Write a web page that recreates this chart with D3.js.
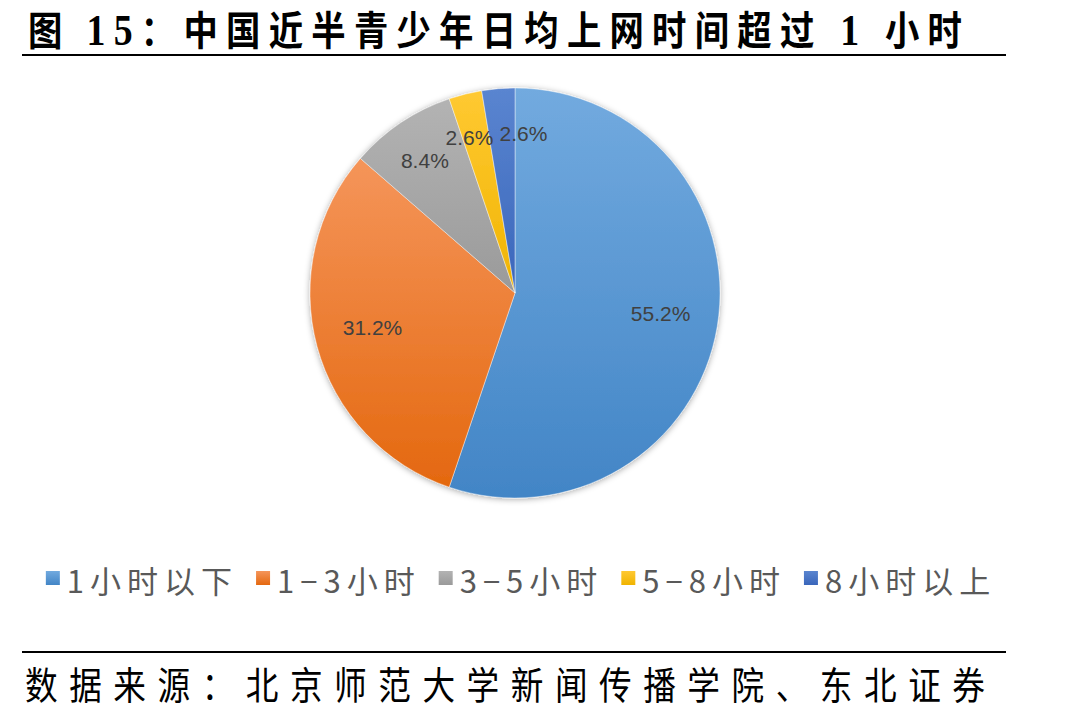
<!DOCTYPE html>
<html><head><meta charset="utf-8">
<script src="https://cdn.jsdelivr.net/npm/d3@7"></script>
<style>
html,body{margin:0;padding:0;background:#fff;}
svg{display:block;}
</style></head>
<body>
<svg id="chart" width="1090" height="719"></svg>
<script>
const categories = ["1小时以下", "1−3小时", "3−5小时", "5−8小时", "8小时以上"];
const values = [55.2, 31.2, 8.4, 2.6, 2.6];
const labels = ["55.2%", "31.2%", "8.4%", "2.6%", "2.6%"];
const colorsLight = ["#72aadf", "#f5955a", "#b3b3b3", "#ffc932", "#5a85d0"];
const colorsDark  = ["#4285c6", "#e4680f", "#9a9a9a", "#f0b400", "#3a66bb"];
const titleText = "中国近半青少年日均上网时间超过";
const sourceText = "数据来源：北京师范大学新闻传播学院、东北证券";

const W = 1090, H = 719;
const svg = d3.select("#chart");
const defs = svg.append("defs");

// Title
const sx = 0.86;
const t = svg.append("g").attr("transform", `translate(28,45) scale(${sx},1)`)
  .append("text").attr("x", 0).attr("y", 0)
  .attr("font-size", 40).attr("font-weight", 700).attr("fill", "#000")
  .attr("textLength", 934 / sx).attr("lengthAdjust", "spacing");
t.append("tspan").attr("font-family", "'Noto Sans CJK SC'").text("图 ");
t.append("tspan").attr("font-family", "'Liberation Serif'").attr("font-size", 44).text("15");
t.append("tspan").attr("font-family", "'Noto Sans CJK SC'").text("：" + titleText);
t.append("tspan").attr("font-family", "'Liberation Serif'").attr("font-size", 44).text(" 1 ");
t.append("tspan").attr("font-family", "'Noto Sans CJK SC'").text("小时");

svg.append("line").attr("x1", 22).attr("x2", 1006).attr("y1", 55).attr("y2", 55)
  .attr("stroke", "#000").attr("stroke-width", 2);
svg.append("line").attr("x1", 22).attr("x2", 1006).attr("y1", 652).attr("y2", 652)
  .attr("stroke", "#000").attr("stroke-width", 2);

svg.append("g").attr("transform", `translate(25,699) scale(${sx},1)`)
  .append("text").attr("x", 0).attr("y", 0)
  .attr("font-family", "'Noto Sans CJK SC'").attr("font-size", 38).attr("fill", "#000")
  .attr("textLength", 960 / sx).attr("lengthAdjust", "spacing")
  .text(sourceText);

// Pie
const cx = 515, cy = 293, R = 205;
const filt = defs.append("filter").attr("id", "shadow")
  .attr("x", "-10%").attr("y", "-10%").attr("width", "120%").attr("height", "120%");
filt.append("feDropShadow").attr("dx", 0).attr("dy", 1).attr("stdDeviation", 3)
  .attr("flood-color", "#000").attr("flood-opacity", 0.35);

categories.forEach((c, i) => {
  const g = defs.append("linearGradient").attr("id", "grad" + i)
    .attr("x1", 0).attr("y1", 0).attr("x2", 0).attr("y2", 1);
  g.append("stop").attr("offset", "0%").attr("stop-color", colorsLight[i]);
  g.append("stop").attr("offset", "100%").attr("stop-color", colorsDark[i]);
});

const pie = d3.pie().sort(null).value(d => d)(values);
const arc = d3.arc().innerRadius(0).outerRadius(R);
const pg = svg.append("g").attr("transform", `translate(${cx},${cy})`);
pg.append("g").attr("filter", "url(#shadow)")
  .selectAll("path").data(pie).join("path")
  .attr("d", arc)
  .attr("fill", (d, i) => `url(#grad${i})`)
  .attr("stroke", "#fff").attr("stroke-width", 0.6).attr("stroke-opacity", 0.7);

// Labels
const lab = pie.map((d, i) => {
  const frac = (d.endAngle - d.startAngle) / (2 * Math.PI);
  const r = frac < 0.1 ? 0.78 * R : 0.72 * R;
  const a = (d.startAngle + d.endAngle) / 2;
  return { x: r * Math.sin(a), y: -r * Math.cos(a) - (frac < 0.1 ? 0 : 4), text: labels[i] };
});
const labelSel = pg.selectAll("text.lbl").data(lab).join("text").attr("class", "lbl")
  .attr("x", d => d.x).attr("y", d => d.y)
  .attr("text-anchor", "middle").attr("dominant-baseline", "central")
  .attr("font-family", "'Liberation Sans', Arial, sans-serif").attr("font-size", 21)
  .attr("fill", "#404040").text(d => d.text);
// simple horizontal de-overlap
const nodes = labelSel.nodes();
for (let k = 1; k < nodes.length; k++) {
  const a = nodes[k - 1].getBBox(), b = nodes[k].getBBox();
  const overlapX = Math.min(a.x + a.width, b.x + b.width) - Math.max(a.x, b.x);
  const overlapY = Math.min(a.y + a.height, b.y + b.height) - Math.max(a.y, b.y);
  if (overlapX > -6 && overlapY > 0) {
    const shift = overlapX + 6;
    const p = lab[k - 1], q = lab[k];
    if (q.x >= p.x) { p.x -= shift * 0.3; q.x += shift * 0.7; }
    else { p.x += shift * 0.3; q.x -= shift * 0.7; }
    d3.select(nodes[k - 1]).attr("x", p.x);
    d3.select(nodes[k]).attr("x", q.x);
  }
}

// Legend
const lg = svg.append("g");
const items = [];
let x = 0;
categories.forEach((c, i) => {
  const it = lg.append("g");
  it.append("rect").attr("x", 0).attr("y", -7).attr("width", 14).attr("height", 14)
    .attr("fill", `url(#grad${i})`);
  const tx = it.append("text").attr("x", 21).attr("y", 1)
    .attr("dominant-baseline", "central")
    .attr("font-family", "'Noto Sans CJK SC'").attr("font-size", 31)
    .attr("font-weight", 400).attr("letter-spacing", 6).attr("fill", "#595959").text(c);
  const w = 21 + tx.node().getComputedTextLength();
  items.push({ g: it, w });
});
const gap = 18;
const total = d3.sum(items, d => d.w) + gap * (items.length - 1);
x = 521 - total / 2;
items.forEach(d => { d.g.attr("transform", `translate(${x},578)`); x += d.w + gap; });
</script>
</body></html>
